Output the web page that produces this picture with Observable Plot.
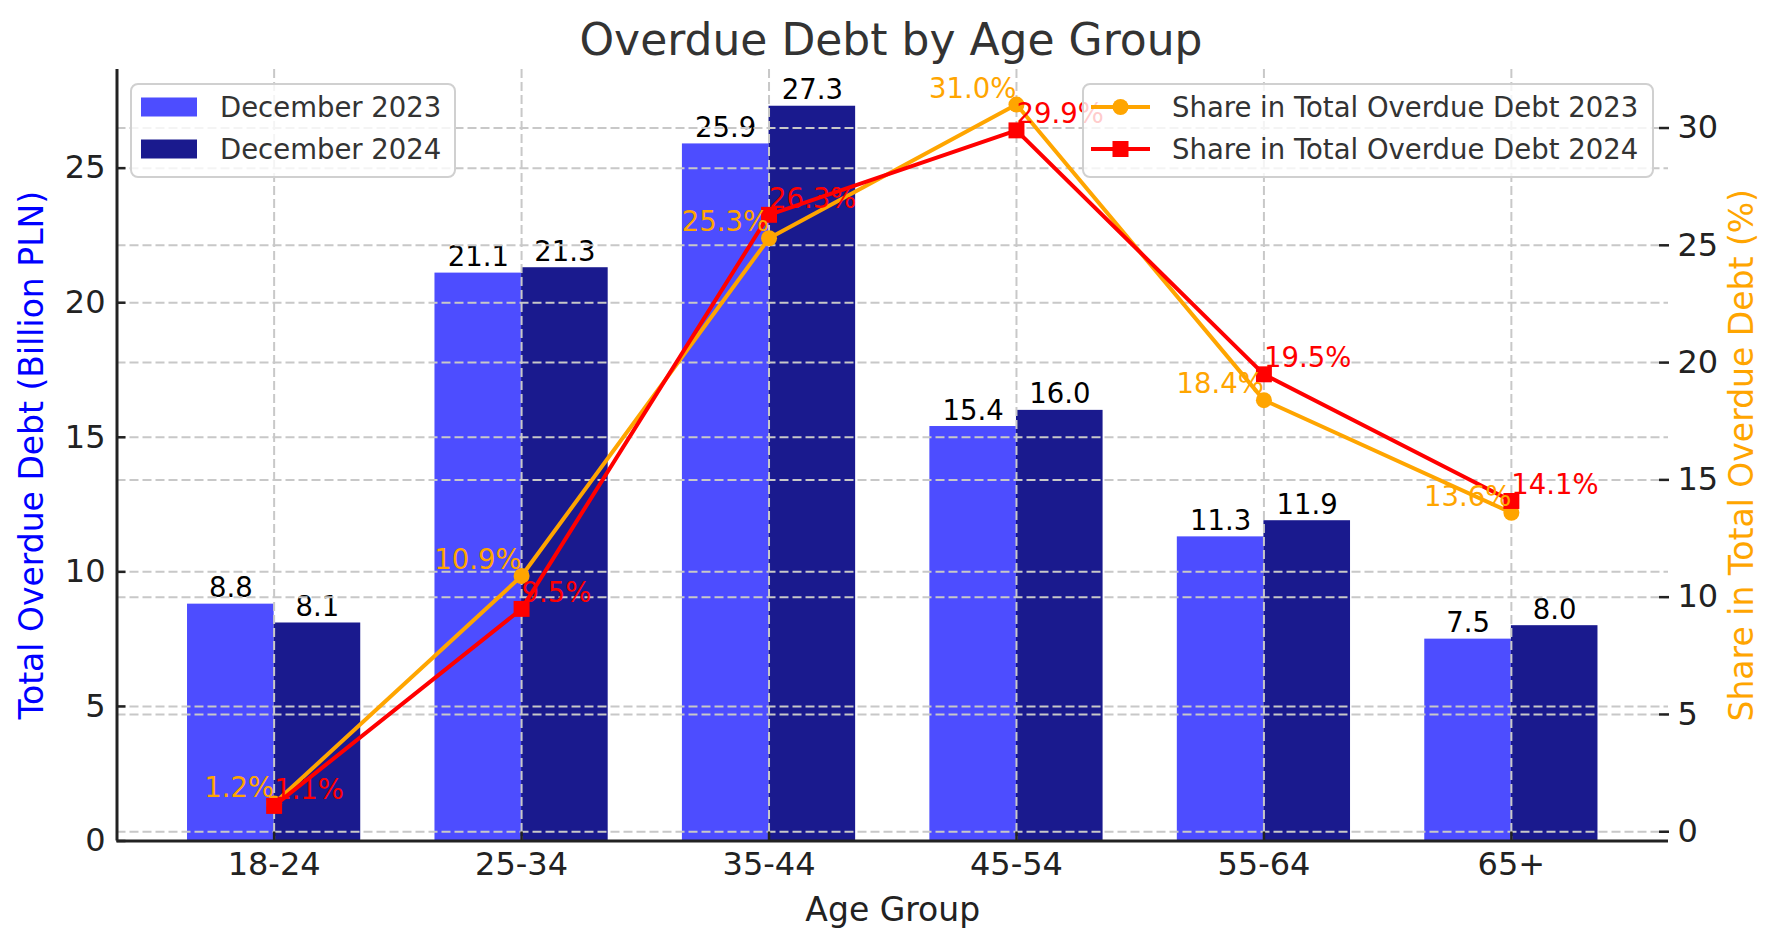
<!DOCTYPE html>
<html>
<head>
<meta charset="utf-8">
<script src="https://cdn.jsdelivr.net/npm/d3@7"></script>
<script src="https://cdn.jsdelivr.net/npm/@observablehq/plot@0.6"></script>
<style>
  html, body { margin: 0; padding: 0; background: #fff; }
  body { width: 1782px; height: 947px; overflow: hidden; font-family: "DejaVu Sans", sans-serif; }
  #title { height: 62px; box-sizing: border-box; padding-top: 18px; line-height: 44px; font-size: 44px; color: #333; text-align: center; white-space: nowrap; }
  #chart svg { display: block; }
</style>
</head>
<body>
<div id="title">Overdue Debt by Age Group</div>
<div id="chart"></div>
<script>
// ---- data ----
const categories = ["18-24", "25-34", "35-44", "45-54", "55-64", "65+"];
const debt2023 = [8.8, 21.1, 25.9, 15.4, 11.3, 7.5];
const debt2024 = [8.1, 21.3, 27.3, 16.0, 11.9, 8.0];
const share2023 = [1.2, 10.9, 25.3, 31.0, 18.4, 13.6];
const share2024 = [1.1, 9.5, 26.3, 29.9, 19.5, 14.1];
const leftTicks = [0, 5, 10, 15, 20, 25];
const rightTicks = [0, 5, 10, 15, 20, 25, 30];
const barLabels = ["December 2023", "December 2024"];
const lineLabels = ["Share in Total Overdue Debt 2023", "Share in Total Overdue Debt 2024"];

// ---- styling ----
const C23 = "#4d4dff", C24 = "#1a1a8e", ORANGE = "#ffa500", RED = "#ff0000";
const GRID = { stroke: "#c8c8c8", strokeWidth: 2, strokeDasharray: "9,4" };
const TICKFONT = 32;

const rows = categories.map((c, i) => ({ i, c, d23: debt2023[i], d24: debt2024[i], s23: share2023[i], s24: share2024[i] }));
const n = categories.length;
const barW = 0.35;
const xPad = 0.05 * (n - 1 + 2 * barW);
const xDomain = [-barW - xPad, n - 1 + barW + xPad];
const leftMax = d3.max([...debt2023, ...debt2024]) * 1.05;
const allShare = [...share2023, ...share2024];
const sMin = d3.min(allShare), sMax = d3.max(allShare), sPad = 0.05 * (sMax - sMin);
const rightDomain = [sMin - sPad, sMax + sPad];
const toLeft = d3.scaleLinear().domain(rightDomain).range([0, leftMax]);
const idx = d3.range(n);

const W = 1782, H = 885;
const chart = Plot.plot({
  width: W, height: H,
  marginLeft: 116.5, marginRight: 114, marginTop: 7, marginBottom: 106.5,
  style: { fontFamily: "DejaVu Sans", fontSize: "27.5px", background: "#fff", overflow: "visible" },
  x: { type: "linear", domain: xDomain },
  y: { type: "linear", domain: [0, leftMax] },
  marks: [
    Plot.rectY(rows, { x1: d => d.i - barW, x2: d => d.i, y: "d23", fill: C23 }),
    Plot.rectY(rows, { x1: d => d.i, x2: d => d.i + barW, y: "d24", fill: C24 }),
    Plot.ruleX(idx, { ...GRID }),
    Plot.ruleY(leftTicks, { ...GRID }),
    Plot.text(rows, { x: d => d.i - barW / 2, y: "d23", text: d => d.d23.toFixed(1), lineAnchor: "bottom", dy: -7, fontSize: 27.5, fill: "#000" }),
    Plot.text(rows, { x: d => d.i + barW / 2, y: "d24", text: d => d.d24.toFixed(1), lineAnchor: "bottom", dy: -7, fontSize: 27.5, fill: "#000" }),
    Plot.ruleY(rightTicks.map(v => toLeft(v)), { ...GRID }),
    Plot.line(rows, { x: "i", y: d => toLeft(d.s23), stroke: ORANGE, strokeWidth: 4 }),
    Plot.dot(rows, { x: "i", y: d => toLeft(d.s23), fill: ORANGE, r: 8, symbol: "circle" }),
    Plot.line(rows, { x: "i", y: d => toLeft(d.s24), stroke: RED, strokeWidth: 4 }),
    Plot.dot(rows, { x: "i", y: d => toLeft(d.s24), fill: RED, r: 9, symbol: "square" }),
    Plot.text(rows, { x: "i", y: d => toLeft(d.s23), text: d => d.s23.toFixed(1) + "%", textAnchor: "end", lineAnchor: "bottom", dy: -7, fontSize: 27.5, fill: ORANGE }),
    Plot.text(rows, { x: "i", y: d => toLeft(d.s24), text: d => d.s24.toFixed(1) + "%", textAnchor: "start", lineAnchor: "bottom", dy: -7, fontSize: 27.5, fill: RED }),
    // spines
    Plot.ruleX([xDomain[0]], { stroke: "#222", strokeWidth: 3 }),
    Plot.ruleY([0], { stroke: "#222", strokeWidth: 3 }),
    // axes
    Plot.axisX(idx, { anchor: "bottom", tickFormat: i => categories[i], tickSize: -9, tickPadding: 20, fontSize: TICKFONT, color: "#222", strokeWidth: 2.5, label: null }),
    Plot.axisY(leftTicks, { anchor: "left", tickSize: -9, tickPadding: 20.5, fontSize: TICKFONT, color: "#222", strokeWidth: 2.5, label: null }),
    Plot.axisY(rightTicks.map(v => toLeft(v)), { anchor: "right", tickFormat: d => String(Math.abs(Math.round(toLeft.invert(d)))), tickSize: -10, tickPadding: 19, fontSize: TICKFONT, color: "#222", strokeWidth: 2.5, label: null }),
    // axis labels
    Plot.text(["Age Group"], { frameAnchor: "bottom", dy: 79.5, lineAnchor: "bottom", fontSize: 33, fill: "#222" }),
    Plot.text(["Total Overdue Debt (Billion PLN)"], { frameAnchor: "left", dx: -85, rotate: -90, lineAnchor: "middle", textAnchor: "middle", fontSize: 33, fill: "blue" }),
    Plot.text(["Share in Total Overdue Debt (%)"], { frameAnchor: "right", dx: 74, rotate: -90, lineAnchor: "middle", textAnchor: "middle", fontSize: 33, fill: ORANGE })
  ]
});
document.getElementById("chart").appendChild(chart);

// ---- legends (drawn on top) ----
const svg = d3.select(chart);
const OFF = 62;
const legendLayer = svg.append("g").attr("text-anchor", "start").attr("font-family", "DejaVu Sans");
function legendBox(x, y, w, h) {
  legendLayer.append("rect").attr("x", x).attr("y", y).attr("width", w).attr("height", h)
    .attr("rx", 7).attr("fill", "#fff").attr("fill-opacity", 0.8)
    .attr("stroke", "#d0d0d0").attr("stroke-width", 2);
}
const rowY = [107 - OFF, 149 - OFF];
// left legend (bars)
legendBox(131, 84 - OFF, 324, 93);
[C23, C24].forEach((col, k) => {
  legendLayer.append("rect").attr("x", 141).attr("y", rowY[k] - 9.5).attr("width", 56).attr("height", 19).attr("fill", col);
  legendLayer.append("text").attr("x", 220).attr("y", rowY[k] + 9.8).attr("font-size", 27.5).attr("fill", "#333")
    .attr("text-anchor", "start").text(barLabels[k]);
});
// right legend (lines)
legendBox(1083, 84 - OFF, 570, 93);
[ORANGE, RED].forEach((col, k) => {
  legendLayer.append("line").attr("x1", 1091).attr("x2", 1150).attr("y1", rowY[k]).attr("y2", rowY[k]).attr("stroke", col).attr("stroke-width", 4);
  if (k === 0) legendLayer.append("circle").attr("cx", 1120.5).attr("cy", rowY[k]).attr("r", 8).attr("fill", col);
  else legendLayer.append("rect").attr("x", 1120.5 - 8).attr("y", rowY[k] - 8).attr("width", 16).attr("height", 16).attr("fill", col);
  legendLayer.append("text").attr("x", 1172).attr("y", rowY[k] + 9.8).attr("font-size", 27.5).attr("fill", "#333")
    .attr("text-anchor", "start").text(lineLabels[k]);
});
</script>
</body>
</html>
